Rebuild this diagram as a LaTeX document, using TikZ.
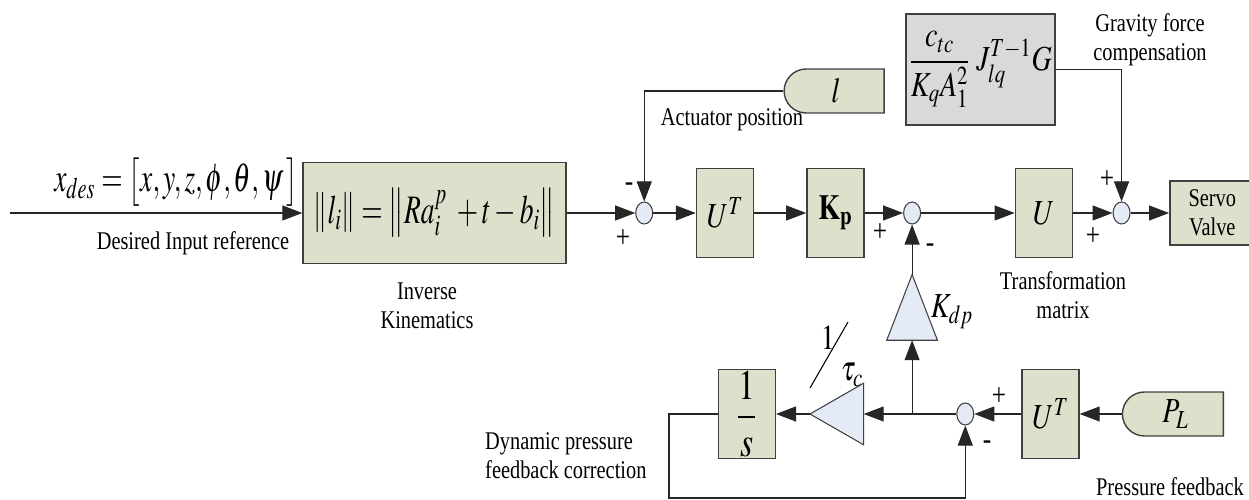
\documentclass[tikz,border=0pt]{standalone}
\usepackage{mathptmx}
\usepackage{amsmath}
\usepackage{fontspec}
\setmainfont{Liberation Serif}[FakeStretch=0.8]
\usepackage{graphicx}
\usepackage{xcolor}
\usetikzlibrary{arrows.meta,positioning,shapes.geometric,shapes.misc}

\definecolor{blockfill}{HTML}{DDE0CB}
\definecolor{gravfill}{HTML}{D9D9D9}
\definecolor{sumfill}{HTML}{E4EAF6}
\newcommand{\nrw}[1]{\scalebox{0.8}[1]{#1}}
\newcommand{\nrwb}[1]{\scalebox{0.68}[1]{#1}}

\begin{document}
\begin{tikzpicture}[
    box/.style={
        draw=black!75,
        fill=blockfill,
        line width=0.8pt,
        inner sep=0pt,
        minimum width=1.14cm,
        minimum height=1.78cm,
        font=\fontsize{20}{22}\selectfont
    },
    graybox/.style={
        box,
        fill=gravfill,
        minimum width=2.98cm,
        minimum height=2.22cm
    },
    source/.style={
        box,
        rounded rectangle,
        rounded rectangle right arc=none,
        minimum width=2cm,
        minimum height=0.88cm
    },
    sumnode/.style={
        ellipse,
        draw=black!75,
        fill=sumfill,
        line width=0.6pt,
        inner sep=0pt,
        minimum width=0.34cm,
        minimum height=0.44cm
    },
    gainbox/.style={inner sep=0pt},
    gain/.style={draw=black!75, fill=sumfill, line width=0.6pt},
    arrow/.style={-{Triangle[length=0.4cm,width=0.3cm]}, line width=0.6pt, black!85},
    mylabel/.style={font=\fontsize{14.5}{16.5}\selectfont,align=center},
    signlbl/.style={font=\fontsize{18}{18}\selectfont,inner sep=0pt},
    mathlbl/.style={font=\fontsize{20}{22}\selectfont,inner sep=0pt},
    ]

    \useasboundingbox (0,0) rectangle (24.98,-10);

    % forward path
    \coordinate (in) at (0.2,-4.26);
    \node[box, minimum width=5.26cm, minimum height=2.02cm, font=\fontsize{23}{26}\selectfont] (ik) at (8.69,-4.26) {\nrwb{$\left\| l_i \right\| = \left\| Ra_i^p \; + t - b_i \right\|$}};
    \node[sumnode, right=1.37cm of ik] (sum1) {};
    \node[box, right=0.85cm of sum1] (ut1) {\nrw{$U^T$}};
    \node[box, right=1.04cm of ut1] (kp) {\nrw{$\mathbf{K}_{\mathbf{p}}$}};
    \node[sumnode, right=0.77cm of kp] (sum2) {};
    \node[box, right=1.87cm of sum2] (u) {\nrw{$U$}};
    \node[sumnode, right=0.79cm of u] (sum3) {};
    \node[box, right=0.77cm of sum3, minimum width=1.7cm, minimum height=1.28cm, font=\fontsize{14.5}{16.5}\selectfont, align=center] (servo) {Servo\\Valve};

    % feedforward inputs
    \node[source] (act) at (16.72,-1.82) {\nrw{$l$}};
    \node[graybox] (grav) at (19.61,-1.39) {\nrw{$\dfrac{c_{tc}}{K_q A_1^2}\; J_{lq}^{T-1}G$}};

    % pressure loop
    \node[box] (ut2) at (21.01,-8.28) {\nrw{$U^T$}};
    \node[source, right=0.84cm of ut2, minimum width=2.02cm] (pl) {\nrw{$P_L$}};
    \node[sumnode, left=0.94cm of ut2] (sum4) {};
    \node[gainbox, minimum width=1.0cm, minimum height=1.3cm, below=1.0cm of sum2] (kdp) {};
    \filldraw[gain] (kdp.south west) -- (kdp.north) -- (kdp.south east) -- cycle;
    \coordinate (jn) at (sum2 |- sum4);
    \node[gainbox, minimum width=1.06cm, minimum height=1.22cm, anchor=west] (tau) at (16.2,-8.28) {};
    \filldraw[gain] (tau.north east) -- (tau.west) -- (tau.south east) -- cycle;
    \node[box, left=0.68cm of tau, font=\fontsize{24}{26}\selectfont] (integ) {\nrw{$\dfrac{1}{s}$}};
    \coordinate (fb) at (13.38,-9.96);

    \draw[arrow] (in) -- (ik);
    \draw[arrow] (ik) -- (sum1);
    \draw[arrow] (sum1) -- (ut1);
    \draw[arrow] (ut1) -- (kp);
    \draw[arrow] (kp) -- (sum2);
    \draw[arrow] (sum2) -- (u);
    \draw[arrow] (u) -- (sum3);
    \draw[arrow] (sum3) -- (servo);
    \draw[arrow] (act) -| (sum1);
    \draw[arrow] (grav) -| (sum3);
    \draw[arrow] (kdp) -- (sum2);
    \draw[arrow] (jn) -- (kdp);
    \draw[arrow] (pl) -- (ut2);
    \draw[arrow] (ut2) -- (sum4);
    \draw[arrow] (sum4) -- (tau);
    \draw[arrow] (tau) -- (integ);
    \draw[arrow] (integ) -| (fb) -| (sum4);

    % labels
    \node[mathlbl, anchor=base, font=\fontsize{23}{26}\selectfont] (xdes) at (3.52,-3.84) {\nrwb{$x_{des} = \big[x, y, z, \phi, \theta, \psi\,\big]$}};
    \node[mylabel] (desired) at (3.86,-4.86) {Desired Input reference};
    \node[mylabel] (invlbl) at (8.54,-6.12) {Inverse\\Kinematics};
    \node[mylabel] (actlbl) at (14.64,-2.4) {Actuator position};
    \node[mylabel] (gravlbl) at (23.0,-0.8) {Gravity force\\compensation};
    \node[mylabel] (trlbl) at (21.26,-5.9) {Transformation\\matrix};
    \node[mylabel] (preslbl) at (23.4,-9.74) {Pressure feedback};
    \node[mylabel, align=left, anchor=west] (dynlbl) at (9.58,-9.12) {Dynamic pressure\\feedback correction};
    \node[mathlbl] (kdplbl) at (19.04,-6.24) {\nrw{$K_{dp}$}};
    \node[mathlbl] (onelbl) at (16.56,-6.76) {\nrw{$1$}};
    \node[mathlbl] (taulbl) at (17.04,-7.5) {\nrw{$\tau_c$}};
    \draw[line width=0.6pt] (16.2,-7.76) -- (16.96,-6.44);

    % signs
    \node[signlbl] (s1m) at (12.58,-3.74) {-};
    \node[signlbl] (s1p) at (12.46,-4.78) {+};
    \node[signlbl] (s2p) at (17.6,-4.66) {+};
    \node[signlbl] (s2m) at (18.6,-4.96) {-};
    \node[signlbl] (s3a) at (22.14,-3.6) {+};
    \node[signlbl] (s3b) at (21.86,-4.74) {+};
    \node[signlbl] (s4p) at (19.98,-7.94) {+};
    \node[signlbl] (s4m) at (19.74,-8.9) {-};
\end{tikzpicture}
\end{document}
